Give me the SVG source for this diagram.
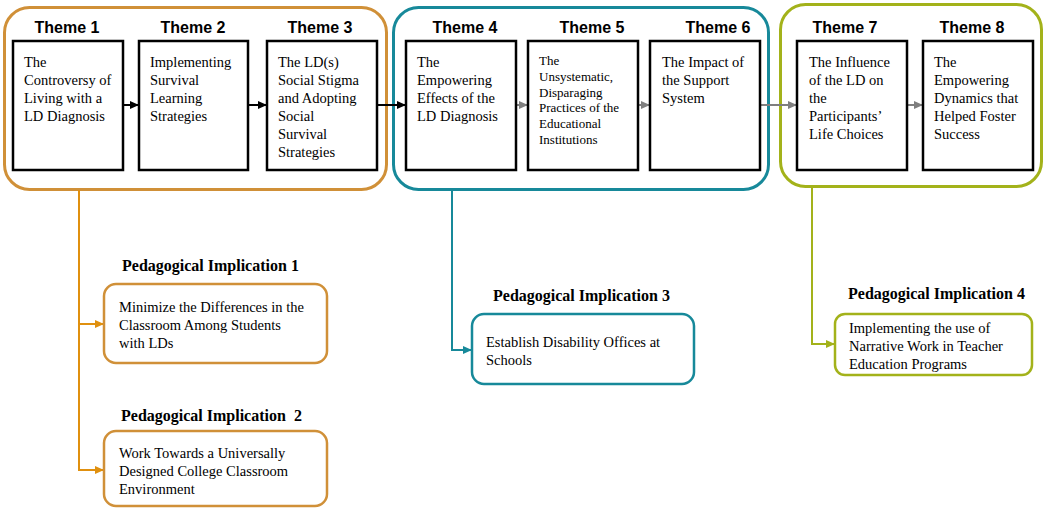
<svg xmlns="http://www.w3.org/2000/svg" width="1046" height="508" viewBox="0 0 1046 508">
<defs>
<style>
.grp{fill:none;stroke-width:3}
.box{fill:#fff;stroke:#000;stroke-width:2.5}
.hd{font-family:"Liberation Sans",Arial,sans-serif;font-weight:bold;font-size:16px;fill:#000;text-anchor:middle}
.tx{font-family:"Liberation Serif","Times New Roman",serif;font-size:14.5px;fill:#000}
.tx5{font-family:"Liberation Serif","Times New Roman",serif;font-size:13px;fill:#000}
.pt{font-family:"Liberation Serif","Times New Roman",serif;font-weight:bold;font-size:16px;fill:#000}
.ib{fill:#fff;stroke-width:2.5}
.or{stroke:#D09038}
.te{stroke:#17899A}
.gr{stroke:#A3B21A}
</style>
<marker id="mBlk" markerUnits="userSpaceOnUse" markerWidth="10" markerHeight="10" refX="9" refY="5" orient="auto"><path d="M0,1 L9,5 L0,9 Z" fill="#000"/></marker>
<marker id="mGry" markerUnits="userSpaceOnUse" markerWidth="10" markerHeight="10" refX="9" refY="5" orient="auto"><path d="M0,1 L9,5 L0,9 Z" fill="#7F7F7F"/></marker>
<marker id="mOr" markerUnits="userSpaceOnUse" markerWidth="10" markerHeight="10" refX="9" refY="5" orient="auto"><path d="M0,1 L9,5 L0,9 Z" fill="#E0900F"/></marker>
<marker id="mTe" markerUnits="userSpaceOnUse" markerWidth="10" markerHeight="10" refX="9" refY="5" orient="auto"><path d="M0,1 L9,5 L0,9 Z" fill="#17899A"/></marker>
<marker id="mGr" markerUnits="userSpaceOnUse" markerWidth="10" markerHeight="10" refX="9" refY="5" orient="auto"><path d="M0,1 L9,5 L0,9 Z" fill="#A3B21A"/></marker>
</defs>
<rect width="1046" height="508" fill="#fff"/>

<g id="group1"><rect class="grp or" x="4.5" y="7.5" width="382" height="182" rx="25"/></g>
<g id="group2"><rect class="grp te" x="393.5" y="7.5" width="375" height="182" rx="25"/></g>
<g id="group3"><rect class="grp gr" x="780.5" y="4.5" width="261" height="182" rx="25"/></g>

<g id="connectors">
<line x1="123" y1="105" x2="139" y2="105" stroke="#000" stroke-width="2" marker-end="url(#mBlk)"/>
<line x1="248" y1="105" x2="267" y2="105" stroke="#000" stroke-width="2" marker-end="url(#mBlk)"/>
<line x1="377" y1="105" x2="406" y2="105" stroke="#000" stroke-width="2" marker-end="url(#mBlk)"/>
<line x1="516" y1="105" x2="528" y2="105" stroke="#7F7F7F" stroke-width="2" marker-end="url(#mGry)"/>
<line x1="638" y1="105" x2="650" y2="105" stroke="#7F7F7F" stroke-width="2" marker-end="url(#mGry)"/>
<line x1="760" y1="105" x2="797" y2="105" stroke="#7F7F7F" stroke-width="2" marker-end="url(#mGry)"/>
<line x1="907" y1="105" x2="923" y2="105" stroke="#7F7F7F" stroke-width="2" marker-end="url(#mGry)"/>
<path d="M79,190 V470 H104" fill="none" stroke="#E0900F" stroke-width="2" marker-end="url(#mOr)"/>
<path d="M79,324 H104" fill="none" stroke="#E0900F" stroke-width="2" marker-end="url(#mOr)"/>
<path d="M452,190 V350 H472" fill="none" stroke="#17899A" stroke-width="2" marker-end="url(#mTe)"/>
<path d="M812,186 V344 H835" fill="none" stroke="#A3B21A" stroke-width="2" marker-end="url(#mGr)"/>
</g>

<g id="theme1">
<text class="hd" x="67" y="33">Theme 1</text>
<rect class="box" x="13" y="41" width="110" height="129"/>
<text class="tx" x="24" y="67"><tspan x="24">The</tspan><tspan x="24" dy="18">Controversy of</tspan><tspan x="24" dy="18">Living with a</tspan><tspan x="24" dy="18">LD Diagnosis</tspan></text>
</g>
<g id="theme2">
<text class="hd" x="193" y="33">Theme 2</text>
<rect class="box" x="139" y="41" width="109" height="129"/>
<text class="tx" x="150" y="67"><tspan x="150">Implementing</tspan><tspan x="150" dy="18">Survival</tspan><tspan x="150" dy="18">Learning</tspan><tspan x="150" dy="18">Strategies</tspan></text>
</g>
<g id="theme3">
<text class="hd" x="320" y="33">Theme 3</text>
<rect class="box" x="267" y="41" width="110" height="129"/>
<text class="tx" x="278" y="67"><tspan x="278">The LD(s)</tspan><tspan x="278" dy="18">Social Stigma</tspan><tspan x="278" dy="18">and Adopting</tspan><tspan x="278" dy="18">Social</tspan><tspan x="278" dy="18">Survival</tspan><tspan x="278" dy="18">Strategies</tspan></text>
</g>
<g id="theme4">
<text class="hd" x="465" y="33">Theme 4</text>
<rect class="box" x="406" y="41" width="110" height="129"/>
<text class="tx" x="417" y="67"><tspan x="417">The</tspan><tspan x="417" dy="18">Empowering</tspan><tspan x="417" dy="18">Effects of the</tspan><tspan x="417" dy="18">LD Diagnosis</tspan></text>
</g>
<g id="theme5">
<text class="hd" x="592" y="33">Theme 5</text>
<rect class="box" x="528" y="41" width="110" height="129"/>
<text class="tx5" x="539" y="65"><tspan x="539">The</tspan><tspan x="539" dy="15.8">Unsystematic,</tspan><tspan x="539" dy="15.8">Disparaging</tspan><tspan x="539" dy="15.8">Practices of the</tspan><tspan x="539" dy="15.8">Educational</tspan><tspan x="539" dy="15.8">Institutions</tspan></text>
</g>
<g id="theme6">
<text class="hd" x="718" y="33">Theme 6</text>
<rect class="box" x="650" y="41" width="110" height="129"/>
<text class="tx" x="662" y="67"><tspan x="662">The Impact of</tspan><tspan x="662" dy="18">the Support</tspan><tspan x="662" dy="18">System</tspan></text>
</g>
<g id="theme7">
<text class="hd" x="845" y="33">Theme 7</text>
<rect class="box" x="797" y="41" width="110" height="129"/>
<text class="tx" x="809" y="67"><tspan x="809">The Influence</tspan><tspan x="809" dy="18">of the LD on</tspan><tspan x="809" dy="18">the</tspan><tspan x="809" dy="18">Participants’</tspan><tspan x="809" dy="18">Life Choices</tspan></text>
</g>
<g id="theme8">
<text class="hd" x="972" y="33">Theme 8</text>
<rect class="box" x="923" y="41" width="110" height="129"/>
<text class="tx" x="934" y="67"><tspan x="934">The</tspan><tspan x="934" dy="18">Empowering</tspan><tspan x="934" dy="18">Dynamics that</tspan><tspan x="934" dy="18">Helped Foster</tspan><tspan x="934" dy="18">Success</tspan></text>
</g>

<g id="impl1">
<text class="pt" x="122" y="271">Pedagogical Implication 1</text>
<rect class="ib or" x="104" y="284" width="223" height="79" rx="12"/>
<text class="tx" x="119" y="312"><tspan x="119">Minimize the Differences in the</tspan><tspan x="119" dy="18">Classroom Among Students</tspan><tspan x="119" dy="18">with LDs</tspan></text>
</g>
<g id="impl2">
<text class="pt" x="121" y="421" xml:space="preserve">Pedagogical Implication  2</text>
<rect class="ib or" x="104" y="431" width="223" height="75" rx="12"/>
<text class="tx" x="119" y="458"><tspan x="119">Work Towards a Universally</tspan><tspan x="119" dy="18">Designed College Classroom</tspan><tspan x="119" dy="18">Environment</tspan></text>
</g>
<g id="impl3">
<text class="pt" x="493" y="301">Pedagogical Implication 3</text>
<rect class="ib te" x="472" y="314" width="222" height="70" rx="12"/>
<text class="tx" x="486" y="347"><tspan x="486">Establish Disability Offices at</tspan><tspan x="486" dy="18">Schools</tspan></text>
</g>
<g id="impl4">
<text class="pt" x="848" y="299">Pedagogical Implication 4</text>
<rect class="ib gr" x="835" y="314" width="197" height="61" rx="10"/>
<text class="tx" x="849" y="333"><tspan x="849">Implementing the use of</tspan><tspan x="849" dy="18">Narrative Work in Teacher</tspan><tspan x="849" dy="18">Education Programs</tspan></text>
</g>
</svg>
